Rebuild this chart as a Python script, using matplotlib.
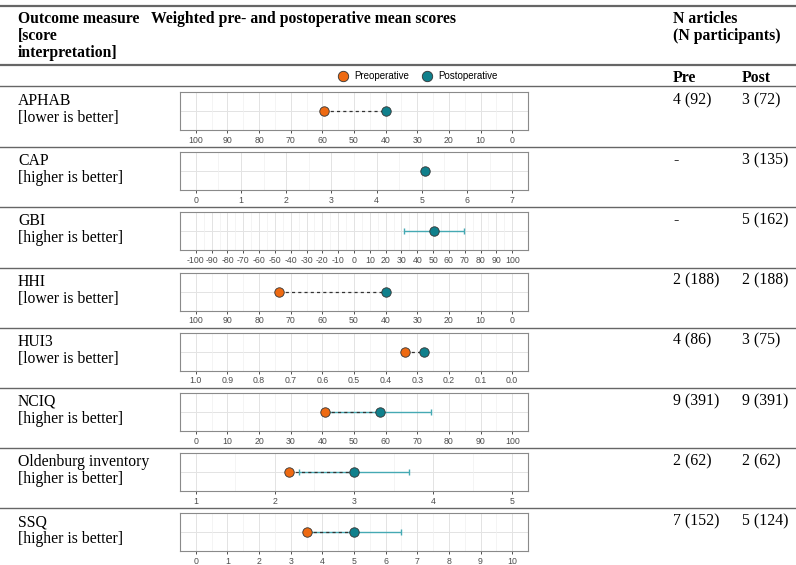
import numpy as np
import matplotlib
matplotlib.use('Agg')
import matplotlib.pyplot as plt
from matplotlib.lines import Line2D

plt.rcParams['font.family'] = ['Liberation Sans', 'DejaVu Sans']

# ---- data ----
measures = ['APHAB', 'CAP', 'GBI', 'HHI', 'HUI3', 'NCIQ', 'Oldenburg inventory', 'SSQ']
interpretation = ['[lower is better]', '[higher is better]', '[higher is better]', '[lower is better]',
                  '[lower is better]', '[higher is better]', '[higher is better]', '[higher is better]']
pre_mean = [59.6, np.nan, np.nan, 73.8, 0.34, 40.9, 2.18, 3.50]
post_mean = [39.8, 5.07, 50.5, 40.0, 0.28, 58.1, 3.00, 4.99]
post_err = [np.nan, np.nan, 19.0, np.nan, np.nan, 16.2, 0.70, 1.48]
n_pre = ['4 (92)', '-', '-', '2 (188)', '4 (86)', '9 (391)', '2 (62)', '7 (152)']
n_post = ['3 (72)', '3 (135)', '5 (162)', '2 (188)', '3 (75)', '9 (391)', '2 (62)', '5 (124)']
scale_lo = [0, 0, -100, 0, 0.0, 0, 1, 0]
scale_hi = [100, 7, 100, 100, 1.0, 100, 5, 10]
scale_step = [10, 1, 10, 10, 0.1, 10, 1, 1]
reversed_axis = [True, False, False, True, True, False, False, False]

PRE_COL = '#ee6a12'
POST_COL = '#10808c'
ERR_COL = '#45a9b3'

W, H = 796, 565
fig = plt.figure(figsize=(W / 100, H / 100), dpi=100)


def fx(x):
    return x / W


def fy(y):
    return 1 - y / H


def hline(y, lw=1.0, color='#666666'):
    fig.add_artist(Line2D([0, 1], [fy(y), fy(y)], color=color, lw=lw))


serif = ['Liberation Serif', 'DejaVu Serif']
FS = 11.3

# header
hline(6, lw=1.6)
hline(65, lw=1.6)
hline(86, lw=1.0)
for i, line in enumerate(['Outcome measure', '[score', 'interpretation]']):
    fig.text(fx(18), fy(23 + 17 * i), line, family=serif, fontsize=FS, fontweight='bold', va='baseline')
fig.text(fx(151), fy(23), 'Weighted pre- and postoperative mean scores', family=serif, fontsize=FS,
         fontweight='bold', va='baseline')
fig.text(fx(673), fy(23), 'N articles', family=serif, fontsize=FS, fontweight='bold', va='baseline')
fig.text(fx(673), fy(40), '(N participants)', family=serif, fontsize=FS, fontweight='bold', va='baseline')
fig.text(fx(673), fy(82), 'Pre', family=serif, fontsize=FS, fontweight='bold', va='baseline')
fig.text(fx(742), fy(82), 'Post', family=serif, fontsize=FS, fontweight='bold', va='baseline')

# legend
handles = [Line2D([], [], marker='o', ls='', markersize=7.5, markerfacecolor=PRE_COL,
                  markeredgecolor='#333333', markeredgewidth=0.6, label='Preoperative'),
           Line2D([], [], marker='o', ls='', markersize=7.5, markerfacecolor=POST_COL,
                  markeredgecolor='#333333', markeredgewidth=0.6, label='Postoperative')]
fig.legend(handles=handles, loc='center', bbox_to_anchor=(fx(418), fy(76)), ncol=2, frameon=False,
           fontsize=7, handletextpad=0.6, columnspacing=1.4, handlelength=1.0)

row_top0 = 87
row_h = 60.2
for i, name in enumerate(measures):
    top = row_top0 + i * row_h
    if i > 0:
        hline(top)
    fig.text(fx(18), fy(top + 18), name, family=serif, fontsize=FS, va='baseline')
    fig.text(fx(18), fy(top + 35), interpretation[i], family=serif, fontsize=FS, va='baseline')
    fig.text(fx(673), fy(top + 17), n_pre[i], family=serif, fontsize=FS, va='baseline')
    fig.text(fx(742), fy(top + 17), n_post[i], family=serif, fontsize=FS, va='baseline')

    ax = fig.add_axes([fx(180), fy(top + 43), (528 - 180) / W, 38 / H])
    lo, hi, step = scale_lo[i], scale_hi[i], scale_step[i]
    majors = np.linspace(lo, hi, int(round((hi - lo) / step)) + 1)
    minors = majors[:-1] + step / 2
    pad = 0.05 * (hi - lo)
    if reversed_axis[i]:
        ax.set_xlim(hi + pad, lo - pad)
    else:
        ax.set_xlim(lo - pad, hi + pad)
    ax.set_ylim(0.4, 1.6)
    ax.set_xticks(majors)
    ax.set_xticks(minors, minor=True)
    if step < 1:
        ax.set_xticklabels([f'{v:.1f}' for v in majors])
    else:
        ax.set_xticklabels([f'{v:.0f}' for v in majors])
    ax.set_yticks([])
    ax.grid(which='major', axis='x', color='#e3e3e3', lw=0.7, zorder=0)
    ax.grid(which='minor', axis='x', color='#f0f0f0', lw=0.5, zorder=0)
    ax.axhline(1, color='#e3e3e3', lw=0.7, zorder=0)
    ax.tick_params(axis='x', which='major', length=2.5, width=0.6, color='#333333',
                   labelsize=6.3, labelcolor='#4d4d4d', pad=1.5)
    ax.tick_params(axis='x', which='minor', length=0)
    for sp in ax.spines.values():
        sp.set_color('#8a8a8a')
        sp.set_linewidth(0.8)

    if not np.isnan(post_err[i]):
        ax.errorbar([post_mean[i]], [1], xerr=[post_err[i]], fmt='none', ecolor=ERR_COL,
                    elinewidth=1.0, capsize=2.5, capthick=1.0, zorder=2)
    if not np.isnan(pre_mean[i]):
        ax.plot([pre_mean[i], post_mean[i]], [1, 1], ls=(0, (2.5, 2.5)), color='#333333', lw=0.9, zorder=3)
        ax.plot([pre_mean[i]], [1], 'o', markersize=6.8, markerfacecolor=PRE_COL,
                markeredgecolor='#333333', markeredgewidth=0.6, zorder=4)
    ax.plot([post_mean[i]], [1], 'o', markersize=6.8, markerfacecolor=POST_COL,
            markeredgecolor='#333333', markeredgewidth=0.6, zorder=4)

fig.savefig('out.png', dpi=100, facecolor='white')
